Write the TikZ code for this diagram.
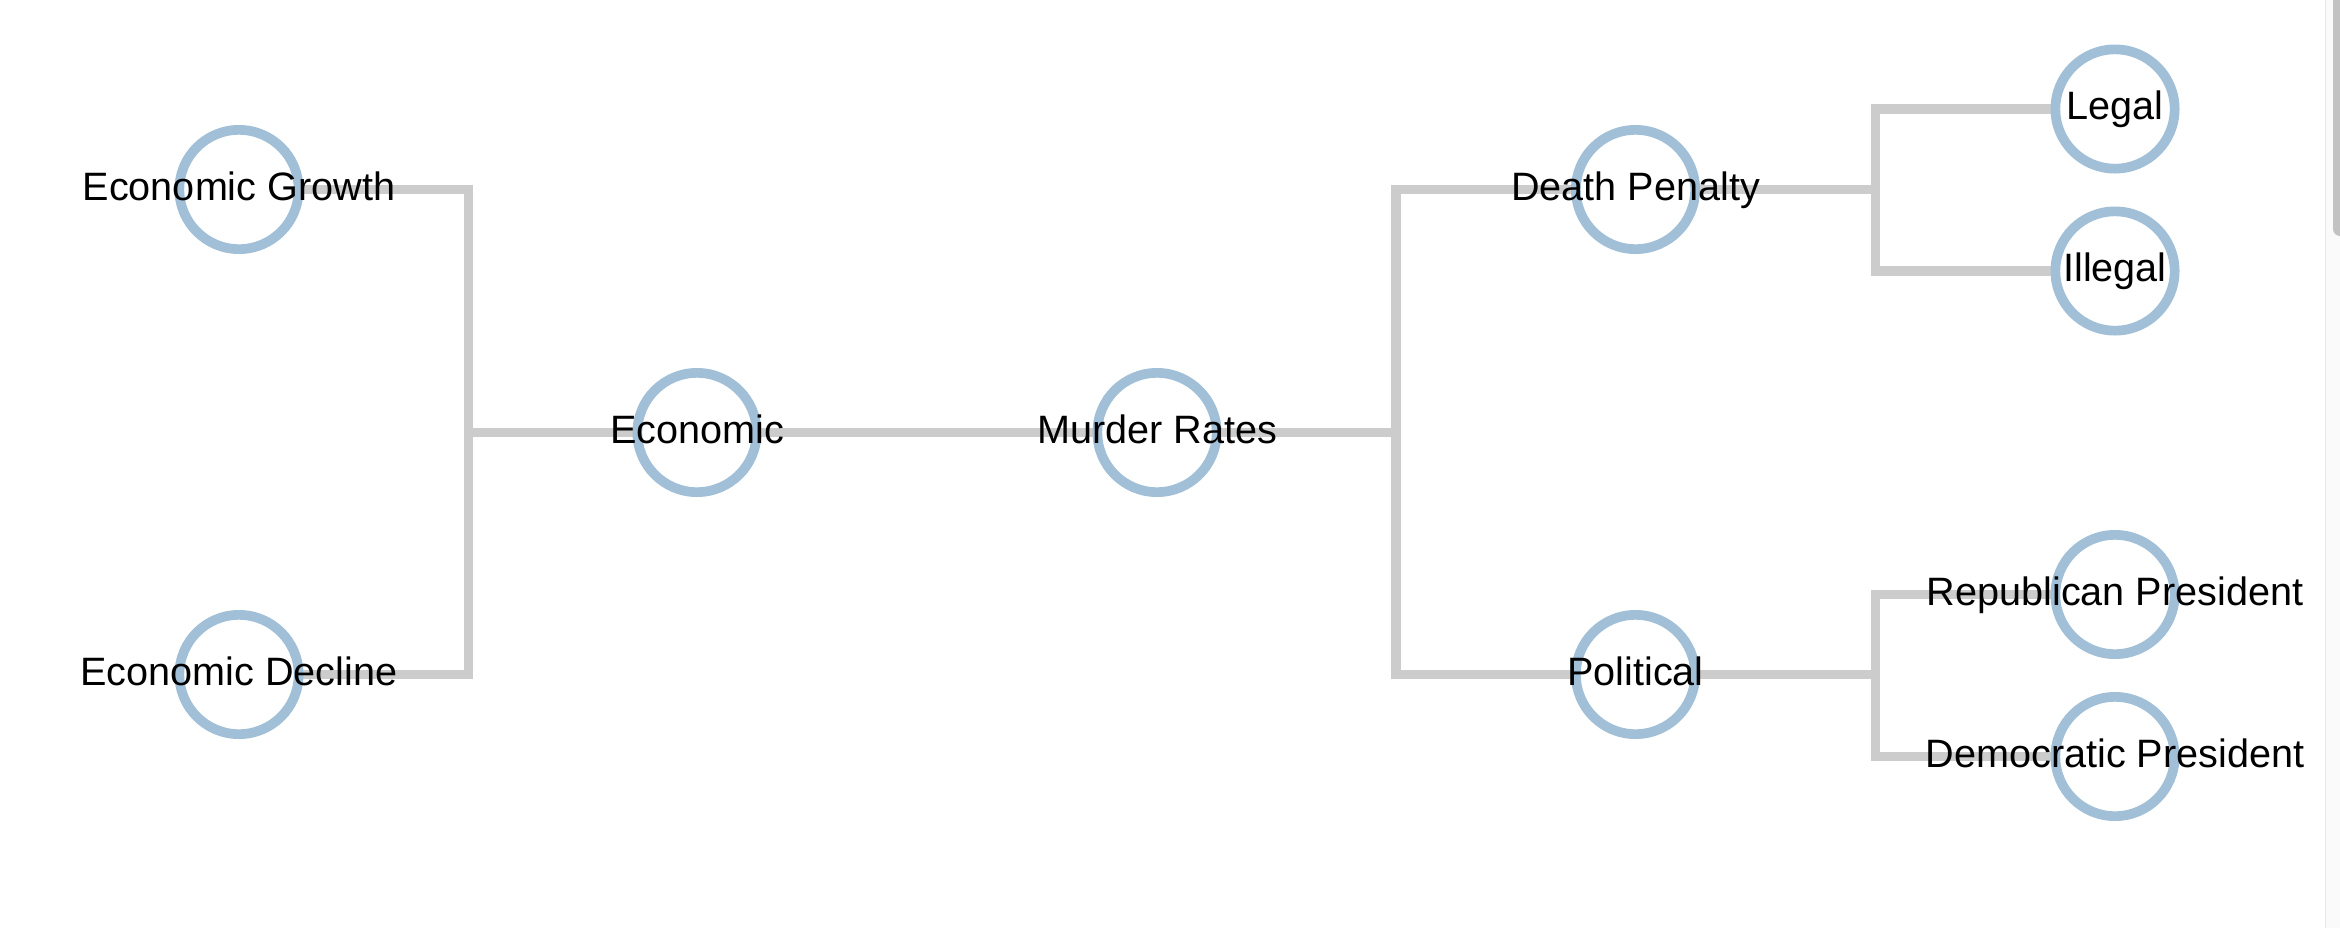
\documentclass[tikz,border=0pt]{standalone}
\usepackage{fontspec}
\setmainfont{Liberation Sans}
\definecolor{ring}{HTML}{A1BFD7}
\definecolor{linkc}{HTML}{CCCCCC}
\definecolor{trackc}{HTML}{FAFAFA}
\definecolor{trackline}{HTML}{E8E8E8}
\definecolor{thumbc}{HTML}{C2C2C2}
\pgfdeclarelayer{bg}
\pgfsetlayers{bg,main}
\begin{document}
\begin{tikzpicture}[x=0.5pt,y=-0.5pt,
  nd/.style={circle, draw=ring, line width=4.85pt, fill=white, minimum size=59.65pt, inner sep=0pt},
  txt/.style={anchor=base, inner sep=0pt, font=\fontsize{19.8}{24}\selectfont},
  link/.style={draw=linkc, line width=4.85pt, line join=miter, line cap=butt}]
\useasboundingbox (0,0) rectangle (2340,928);
% nodes
\node[nd] (eg) at (239,189.5) {};
\node[nd] (ed) at (239,674.5) {};
\node[nd] (ec) at (697,432.5) {};
\node[nd] (mr) at (1157,432.5) {};
\node[nd] (dp) at (1635.5,189.5) {};
\node[nd] (po) at (1635.5,674.5) {};
\node[nd] (le) at (2115,109) {};
\node[nd] (il) at (2115,271) {};
\node[nd] (rp) at (2115,594.5) {};
\node[nd] (dm) at (2115,756.5) {};
% labels
\node[txt] (egt) at ([yshift=-5.25pt]eg.center) {Economic Growth};
\node[txt] (edt) at ([yshift=-5.25pt]ed.center) {Economic Decline};
\node[txt] (ect) at ([yshift=-5.25pt]ec.center) {Economic};
\node[txt] (mrt) at ([yshift=-5.25pt]mr.center) {Murder Rates};
\node[txt] (dpt) at ([yshift=-5.25pt]dp.center) {Death Penalty};
\node[txt] (pot) at ([yshift=-5.25pt]po.center) {Political};
\node[txt] (let) at ([yshift=-5.25pt]le.center) {Legal};
\node[txt] (ilt) at ([yshift=-5.25pt]il.center) {Illegal};
\node[txt] (rpt) at ([yshift=-5.25pt]rp.center) {Republican President};
\node[txt] (dmt) at ([yshift=-5.25pt]dm.center) {Democratic President};
% junctions
\coordinate (jl) at (468.5,432.5);
\coordinate (jr) at (1396,432.5);
\coordinate (jd) at (1875.5,189.5);
\coordinate (jp) at (1875.5,674.5);
\begin{pgfonlayer}{bg}
\draw[link] (ec.center) -- (jl) |- (eg.center);
\draw[link] (ec.center) -- (jl) |- (ed.center);
\draw[link] (mr.center) -- (ec.center);
\draw[link] (mr.center) -- (jr) |- (dp.center);
\draw[link] (mr.center) -- (jr) |- (po.center);
\draw[link] (dp.center) -- (jd) |- (le.center);
\draw[link] (dp.center) -- (jd) |- (il.center);
\draw[link] (po.center) -- (jp) |- (rp.center);
\draw[link] (po.center) -- (jp) |- (dm.center);
\end{pgfonlayer}
% scrollbar
\fill[trackc] (2326,0) rectangle (2340,928);
\draw[trackline, line width=0.75pt] (2325.5,0) -- (2325.5,928);
\begin{scope}
\clip (2326,0) rectangle (2340,928);
\fill[thumbc, rounded corners=3.5pt] (2333,-20) rectangle (2350,236);
\end{scope}
\end{tikzpicture}
\end{document}
